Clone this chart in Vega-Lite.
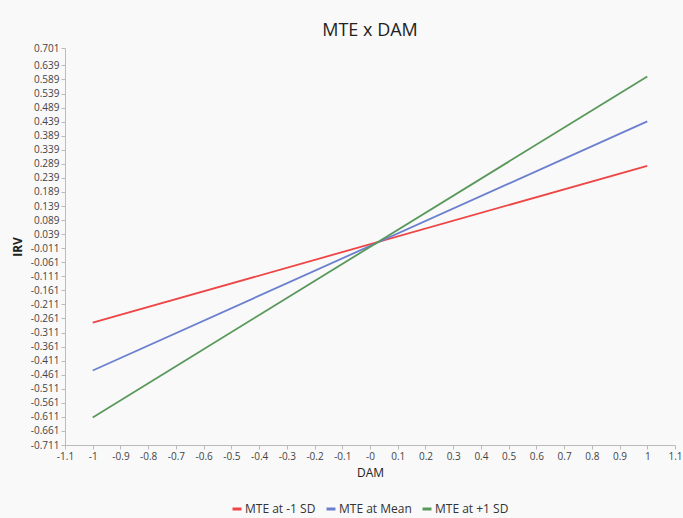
{
  "$schema": "https://vega.github.io/schema/vega-lite/v6.json",
  "width": 683,
  "height": 518,
  "autosize": {"type": "fit", "contains": "padding"},
  "padding": {"left": 11, "top": 22, "right": 0, "bottom": 3},
  "background": "#f9f9f9",
  "title": {"text": "MTE x DAM", "fontSize": 18, "font": "Open Sans", "fontWeight": "normal", "color": "#222", "offset": 3},
  "data": {"values": [
    {"group": "MTE at -1 SD", "DAM": -1, "IRV": -0.276},
    {"group": "MTE at -1 SD", "DAM": 1, "IRV": 0.282},
    {"group": "MTE at Mean", "DAM": -1, "IRV": -0.446},
    {"group": "MTE at Mean", "DAM": 1, "IRV": 0.440},
    {"group": "MTE at +1 SD", "DAM": -1, "IRV": -0.613},
    {"group": "MTE at +1 SD", "DAM": 1, "IRV": 0.600}
  ]},
  "mark": {"type": "line", "strokeWidth": 1.8},
  "encoding": {
    "x": {"field": "DAM", "type": "quantitative", "title": "DAM",
      "scale": {"domain": [-1.1, 1.1], "nice": false, "zero": false},
      "axis": {"values": [-1.1,-1,-0.9,-0.8,-0.7,-0.6,-0.5,-0.4,-0.3,-0.2,-0.1,0,0.1,0.2,0.3,0.4,0.5,0.6,0.7,0.8,0.9,1,1.1],
        "labelExpr": "datum.value == 0 ? '-0' : replace(format(datum.value, '~g'), '\u2212', '-')",
        "grid": false, "labelFlush": false, "labelOverlap": false}},
    "y": {"field": "IRV", "type": "quantitative", "title": "IRV",
      "scale": {"domain": [-0.711, 0.701], "nice": false, "zero": false},
      "axis": {"values": [0.701,0.639,0.589,0.539,0.489,0.439,0.389,0.339,0.289,0.239,0.189,0.139,0.089,0.039,-0.011,-0.061,-0.111,-0.161,-0.211,-0.261,-0.311,-0.361,-0.411,-0.461,-0.511,-0.561,-0.611,-0.661,-0.711],
        "labelExpr": "replace(format(datum.value, '.3f'), '\u2212', '-')",
        "grid": false, "labelFlush": false, "labelOverlap": false, "titleFontWeight": "bold"}},
    "color": {"field": "group", "type": "nominal",
      "scale": {"domain": ["MTE at -1 SD", "MTE at Mean", "MTE at +1 SD"], "range": ["#ee4545", "#6b7fcf", "#58985a"]},
      "legend": {"orient": "bottom", "direction": "horizontal", "title": null, "symbolType": "stroke", "symbolStrokeWidth": 3, "symbolSize": 80, "labelOffset": 2, "labelFontSize": 12, "labelColor": "#333", "labelFont": "Open Sans", "columnPadding": 4, "symbolOffset": 0, "offset": 25}}
  },
  "config": {
    "view": {"stroke": null},
    "legend": {"layout": {"bottom": {"anchor": "middle"}}},
    "axis": {"labelFont": "Open Sans", "labelFontSize": 10, "labelColor": "#444", "domainColor": "#bbb", "tickColor": "#bbb", "tickSize": 4, "titleFont": "Open Sans", "titleFontSize": 12, "titleColor": "#222", "titleFontWeight": "normal"},
    "axisY": {"titlePadding": 6},
    "axisX": {"titlePadding": 6}
  }
}
